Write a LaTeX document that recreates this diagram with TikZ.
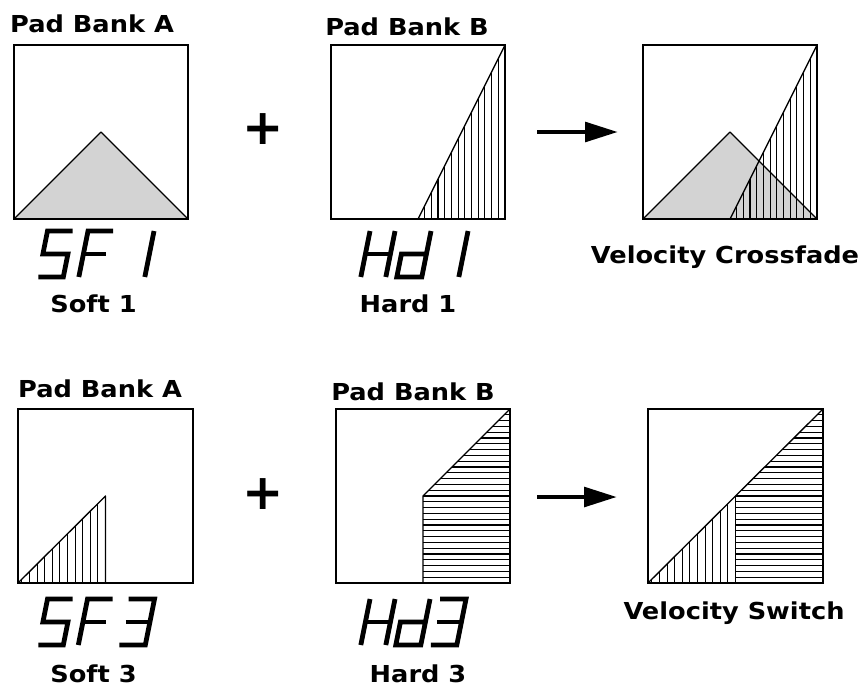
\documentclass[tikz,border=0pt]{standalone}
\usepackage{fontspec}
\setmainfont{DejaVu Sans}[FakeStretch=1.1]
\newfontfamily\plusfont{DejaVu Sans}
\usetikzlibrary{arrows.meta}
\definecolor{trigray}{RGB}{211,211,211}
\tikzset{
  dS/.pic={\draw[lcd] (25,0)--(0,0)--(0,23)--(25,23)--(25,46)--(0,46);},
  dF/.pic={\draw[lcd] (25,0)--(0,0)--(0,46); \draw[lcd] (0,23)--(23,23);},
  dOne/.pic={\draw[lcd] (25,0)--(25,46);},
  dThree/.pic={\draw[lcd] (0,0)--(26,0)--(26,46)--(0,46); \draw[lcd] (2,23)--(26,23);},
  dH/.pic={\draw[lcd] (0,0)--(0,46); \draw[lcd] (25,0)--(25,46); \draw[lcd] (0,23)--(25,23);},
  dd/.pic={\draw[lcd] (25,0)--(25,46)--(0,46)--(0,23)--(25,23);},
}
\begin{document}
\begin{tikzpicture}[x=0.75pt,y=-0.75pt,
  box/.style={line width=1.3pt},
  hatch/.style={line width=0.85pt},
  edge/.style={line width=1pt, line join=round},
  lbl/.style={font=\fontsize{17.5}{20}\selectfont\bfseries, inner sep=0pt, anchor=base},
  plus/.style={font=\plusfont\fontsize{37}{40}\selectfont\bfseries, inner sep=0pt, anchor=base},
  lcd/.style={line width=3.6pt, line cap=butt, line join=miter},
  arr/.style={line width=3.6pt, -{Triangle[length=24.75pt,width=14.5pt]}},
  ]
\useasboundingbox (0,0) rectangle (866,686);

% ---------- top row ----------
% A1
\draw[edge, fill=trigray] (14,219) -- (101,132) -- (188,219) -- cycle;
\draw[box] (14,45) rectangle (188,219);
% B1
\begin{scope}
  \clip (418,219) -- (505,45) -- (505,219) -- cycle;
  \foreach \i in {0,...,13} \draw[hatch] ({505-6.7*\i},45) -- ({505-6.7*\i},219);
\end{scope}
\draw[edge] (418,219) -- (505,45);
\draw[box] (331,45) rectangle (505,219);
% C1
\draw[edge, fill=trigray] (643,219) -- (730,132) -- (817,219) -- cycle;
\begin{scope}
  \clip (730,219) -- (817,45) -- (817,219) -- cycle;
  \foreach \i in {0,...,13} \draw[hatch] ({817-6.7*\i},45) -- ({817-6.7*\i},219);
\end{scope}
\draw[edge] (730,219) -- (817,45);
\draw[box] (643,45) rectangle (817,219);

\node[lbl] (pa1) at (92,32) {Pad Bank A};
\node[lbl] (pb1) at (407,35) {Pad Bank B};
\node[lbl] (s1) at (93.5,312) {Soft 1};
\node[lbl] (h1) at (408,312) {Hard 1};
\node[lbl] (vc) at (725,263) {Velocity Crossfade};
\node[plus] (plus1) at (263,144) {+};
\coordinate (a1s) at (537,132);
\coordinate (a1e) at (618,132);
\draw[arr] (a1s) -- (a1e);

\pic[xslant=0.2] at (47.5,231) {dS};
\pic[xslant=0.2] at (88,231) {dF};
\pic[xslant=0.2] at (129,231) {dOne};
\pic[xslant=0.2] at (370,231) {dH};
\pic[xslant=0.2] at (406,231) {dd};
\pic[xslant=0.2] at (443,231) {dOne};

% ---------- bottom row ----------
% A3
\begin{scope}
  \clip (18,583) -- (105.5,496) -- (105.5,583) -- cycle;
  \foreach \i in {0,...,12} \draw[hatch] ({105.5-7.6*\i},496) -- ({105.5-7.6*\i},583);
\end{scope}
\draw[edge] (18,583) -- (105.5,496) -- (105.5,583);
\draw[box] (18,409) rectangle (193,583);
% B3
\begin{scope}
  \clip (423,583) -- (423,496) -- (510,409) -- (510,583) -- cycle;
  \foreach \i in {0,...,30} \draw[hatch] (423,{583-5.8*\i}) -- (510,{583-5.8*\i});
\end{scope}
\draw[edge] (423,583) -- (423,496) -- (510,409);
\draw[box] (336,409) rectangle (510,583);
% C3
\begin{scope}
  \clip (648,583) -- (735.5,496) -- (735.5,583) -- cycle;
  \foreach \i in {0,...,12} \draw[hatch] ({735.5-7.6*\i},496) -- ({735.5-7.6*\i},583);
\end{scope}
\begin{scope}
  \clip (735.5,583) -- (735.5,496) -- (823,409) -- (823,583) -- cycle;
  \foreach \i in {0,...,30} \draw[hatch] (735.5,{583-5.8*\i}) -- (823,{583-5.8*\i});
\end{scope}
\draw[edge] (648,583) -- (823,409);
\draw[edge] (735.5,496) -- (735.5,583);
\draw[box] (648,409) rectangle (823,583);

\node[lbl] (pa3) at (100,397) {Pad Bank A};
\node[lbl] (pb3) at (413,400) {Pad Bank B};
\node[lbl] (s3) at (93.5,682) {Soft 3};
\node[lbl] (h3) at (418,682) {Hard 3};
\node[lbl] (vs) at (734,619) {Velocity Switch};
\node[plus] (plus3) at (263,509) {+};
\coordinate (a3s) at (537,497);
\coordinate (a3e) at (617,497);
\draw[arr] (a3s) -- (a3e);

\pic[xslant=0.2] at (47.5,599) {dS};
\pic[xslant=0.2] at (87.5,599) {dF};
\pic[xslant=0.2] at (128.5,599) {dThree};
\pic[xslant=0.2] at (370,599) {dH};
\pic[xslant=0.2] at (405,599) {dd};
\pic[xslant=0.2] at (440,599) {dThree};
\end{tikzpicture}
\end{document}
